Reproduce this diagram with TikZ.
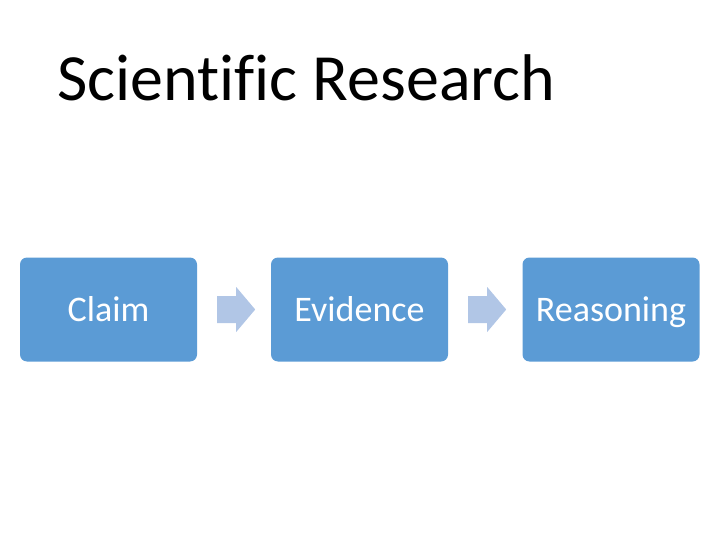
\documentclass[tikz,border=0pt]{standalone}
\usepackage{fontspec}
\setmainfont{Carlito}
\definecolor{boxblue}{HTML}{5B9BD5}
\definecolor{arrowblue}{HTML}{B1C6E6}
\begin{document}
\begin{tikzpicture}[x=1pt,y=-1pt,
  stepbox/.style={fill=boxblue, rounded corners=7pt, minimum width=177pt, minimum height=104pt, inner sep=0pt, text=white, text height=23pt, text depth=0pt, font=\fontsize{36}{40}\selectfont},
  flowarrow/.style={fill=arrowblue}]
\useasboundingbox (0,0) rectangle (720,540);
\node[anchor=base west, font=\fontsize{66}{72}\selectfont\addfontfeatures{Ligatures=NoCommon}, inner sep=0pt] (title) at (57,101) {Scientific Research};
\node[stepbox] (claim) at (108.5,309.5) {Claim};
\node[stepbox] (evidence) at (359.5,309.5) {Evidence};
\node[stepbox] (reasoning) at (611,309.5) {Reasoning};
\foreach \s/\n in {claim/a1, evidence/a2}{
  \coordinate (\n) at (\s.east);
  \fill[flowarrow] ([shift={(20,-13.5)}]\n) -- ++(19,0) -- ++(0,-9) -- ++(19,22.5) -- ++(-19,22.5) -- ++(0,-9) -- ++(-19,0) -- cycle;
}
\end{tikzpicture}
\end{document}
